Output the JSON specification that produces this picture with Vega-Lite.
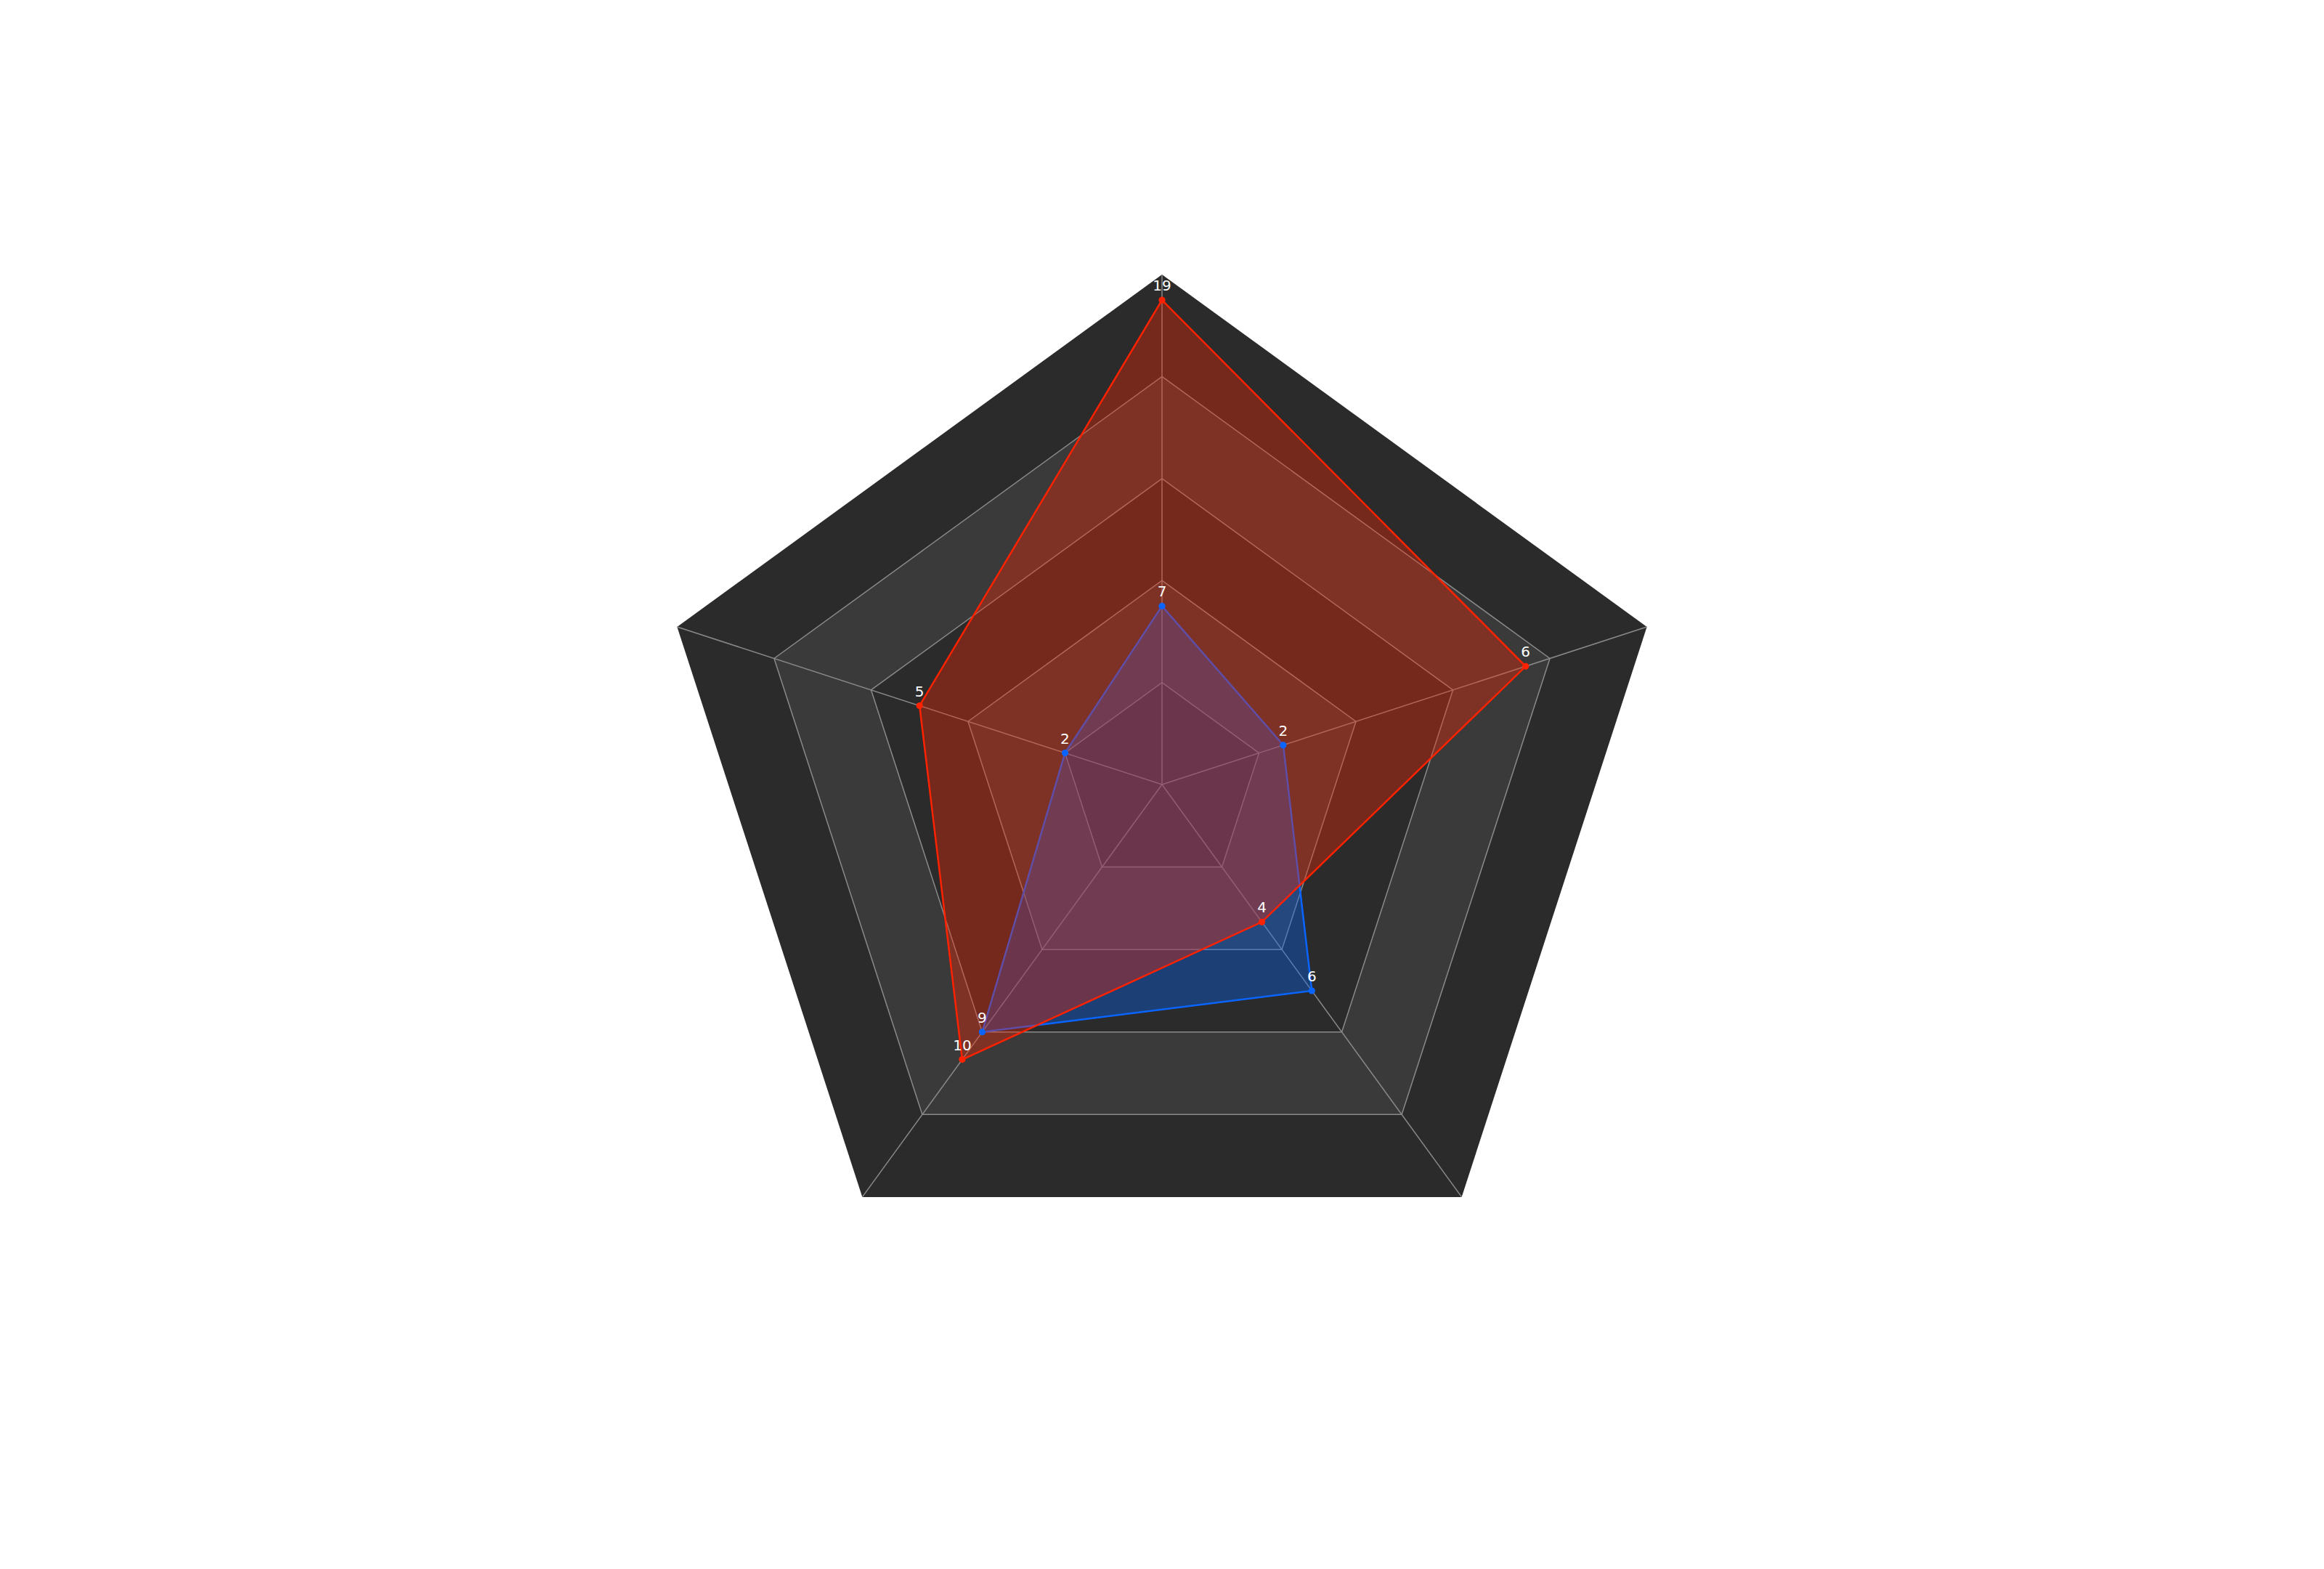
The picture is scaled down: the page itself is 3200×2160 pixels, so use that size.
{
  "$schema": "https://vega.github.io/schema/vega-lite/v6.json",
  "width": 3200,
  "height": 2160,
  "autosize": {"type": "none"},
  "padding": 0,
  "background": "#ffffff",
  "config": {"view": {"stroke": null}},
  "resolve": {"scale": {"color": "independent"}},
  "datasets": {
    "axes": [
      {"axis": 0, "max": 20},
      {"axis": 1, "max": 8},
      {"axis": 2, "max": 12},
      {"axis": 3, "max": 15},
      {"axis": 4, "max": 10}
    ],
    "rings": [
      {"level": 1.0, "axis": 0}, {"level": 1.0, "axis": 1}, {"level": 1.0, "axis": 2}, {"level": 1.0, "axis": 3}, {"level": 1.0, "axis": 4},
      {"level": 0.8, "axis": 0}, {"level": 0.8, "axis": 1}, {"level": 0.8, "axis": 2}, {"level": 0.8, "axis": 3}, {"level": 0.8, "axis": 4},
      {"level": 0.6, "axis": 0}, {"level": 0.6, "axis": 1}, {"level": 0.6, "axis": 2}, {"level": 0.6, "axis": 3}, {"level": 0.6, "axis": 4},
      {"level": 0.4, "axis": 0}, {"level": 0.4, "axis": 1}, {"level": 0.4, "axis": 2}, {"level": 0.4, "axis": 3}, {"level": 0.4, "axis": 4},
      {"level": 0.2, "axis": 0}, {"level": 0.2, "axis": 1}, {"level": 0.2, "axis": 2}, {"level": 0.2, "axis": 3}, {"level": 0.2, "axis": 4}
    ],
    "series": [
      {"series": "A", "axis": 0, "max": 20, "value": 19},
      {"series": "A", "axis": 1, "max": 8, "value": 6},
      {"series": "A", "axis": 2, "max": 12, "value": 4},
      {"series": "A", "axis": 3, "max": 15, "value": 10},
      {"series": "A", "axis": 4, "max": 10, "value": 5},
      {"series": "B", "axis": 0, "max": 20, "value": 7},
      {"series": "B", "axis": 1, "max": 8, "value": 2},
      {"series": "B", "axis": 2, "max": 12, "value": 6},
      {"series": "B", "axis": 3, "max": 15, "value": 9},
      {"series": "B", "axis": 4, "max": 10, "value": 2}
    ]
  },
  "encoding": {
    "x": {"field": "x", "type": "quantitative", "scale": {"domain": [-2.2792, 2.2792], "nice": false, "zero": false}, "axis": null},
    "y": {"field": "y", "type": "quantitative", "scale": {"domain": [-1.5385, 1.5385], "nice": false, "zero": false}, "axis": null}
  },
  "layer": [
    {
      "data": {"name": "rings"},
      "transform": [
        {"calculate": "datum.axis * 2 * PI / 5", "as": "theta"},
        {"calculate": "datum.level * sin(datum.theta)", "as": "x"},
        {"calculate": "datum.level * cos(datum.theta)", "as": "y"}
      ],
      "mark": {"type": "line", "interpolate": "linear-closed", "filled": true, "strokeWidth": 0},
      "encoding": {
        "color": {"field": "level", "type": "ordinal", "scale": {"domain": [1, 0.8, 0.6, 0.4, 0.2], "range": ["#2b2b2b", "#3a3a3a", "#2b2b2b", "#3a3a3a", "#2b2b2b"]}, "legend": null},
        "order": {"field": "axis", "type": "quantitative"}
      }
    },
    {
      "data": {"name": "rings"},
      "transform": [
        {"filter": "datum.level < 1"},
        {"calculate": "datum.axis * 2 * PI / 5", "as": "theta"},
        {"calculate": "datum.level * sin(datum.theta)", "as": "x"},
        {"calculate": "datum.level * cos(datum.theta)", "as": "y"}
      ],
      "mark": {"type": "line", "interpolate": "linear-closed", "stroke": "#8a8a8a", "strokeWidth": 1.5},
      "encoding": {
        "detail": {"field": "level", "type": "nominal"},
        "order": {"field": "axis", "type": "quantitative"}
      }
    },
    {
      "data": {"name": "axes"},
      "transform": [
        {"calculate": "datum.axis * 2 * PI / 5", "as": "theta"},
        {"calculate": "sin(datum.theta)", "as": "x"},
        {"calculate": "cos(datum.theta)", "as": "y"}
      ],
      "mark": {"type": "rule", "stroke": "#8a8a8a", "strokeWidth": 1.5},
      "encoding": {
        "x2": {"datum": 0},
        "y2": {"datum": 0}
      }
    },
    {
      "data": {"name": "series"},
      "transform": [
        {"filter": "datum.series === 'B'"},
        {"calculate": "datum.axis * 2 * PI / 5", "as": "theta"},
        {"calculate": "datum.value / datum.max * sin(datum.theta)", "as": "x"},
        {"calculate": "datum.value / datum.max * cos(datum.theta)", "as": "y"}
      ],
      "mark": {"type": "line", "interpolate": "linear-closed", "filled": true, "fill": "#0066ff", "fillOpacity": 0.35, "stroke": "#0a64ff", "strokeWidth": 2.5},
      "encoding": {
        "order": {"field": "axis", "type": "quantitative"}
      }
    },
    {
      "data": {"name": "series"},
      "transform": [
        {"filter": "datum.series === 'A'"},
        {"calculate": "datum.axis * 2 * PI / 5", "as": "theta"},
        {"calculate": "datum.value / datum.max * sin(datum.theta)", "as": "x"},
        {"calculate": "datum.value / datum.max * cos(datum.theta)", "as": "y"}
      ],
      "mark": {"type": "line", "interpolate": "linear-closed", "filled": true, "fill": "#ff2200", "fillOpacity": 0.35, "stroke": "#ff2200", "strokeWidth": 2.5},
      "encoding": {
        "order": {"field": "axis", "type": "quantitative"}
      }
    },
    {
      "data": {"name": "series"},
      "transform": [
        {"calculate": "datum.axis * 2 * PI / 5", "as": "theta"},
        {"calculate": "datum.value / datum.max * sin(datum.theta)", "as": "x"},
        {"calculate": "datum.value / datum.max * cos(datum.theta)", "as": "y"}
      ],
      "mark": {"type": "circle", "size": 85, "opacity": 1},
      "encoding": {
        "color": {"field": "series", "type": "nominal", "scale": {"domain": ["A", "B"], "range": ["#ff2200", "#0a64ff"]}, "legend": null}
      }
    },
    {
      "data": {"name": "series"},
      "transform": [
        {"calculate": "datum.axis * 2 * PI / 5", "as": "theta"},
        {"calculate": "datum.value / datum.max * sin(datum.theta)", "as": "x"},
        {"calculate": "datum.value / datum.max * cos(datum.theta)", "as": "y"}
      ],
      "mark": {"type": "text", "dy": -13, "baseline": "alphabetic", "align": "center", "font": "DejaVu Sans", "fontSize": 20, "color": "#ffffff"},
      "encoding": {
        "text": {"field": "value", "type": "quantitative"}
      }
    }
  ]
}
